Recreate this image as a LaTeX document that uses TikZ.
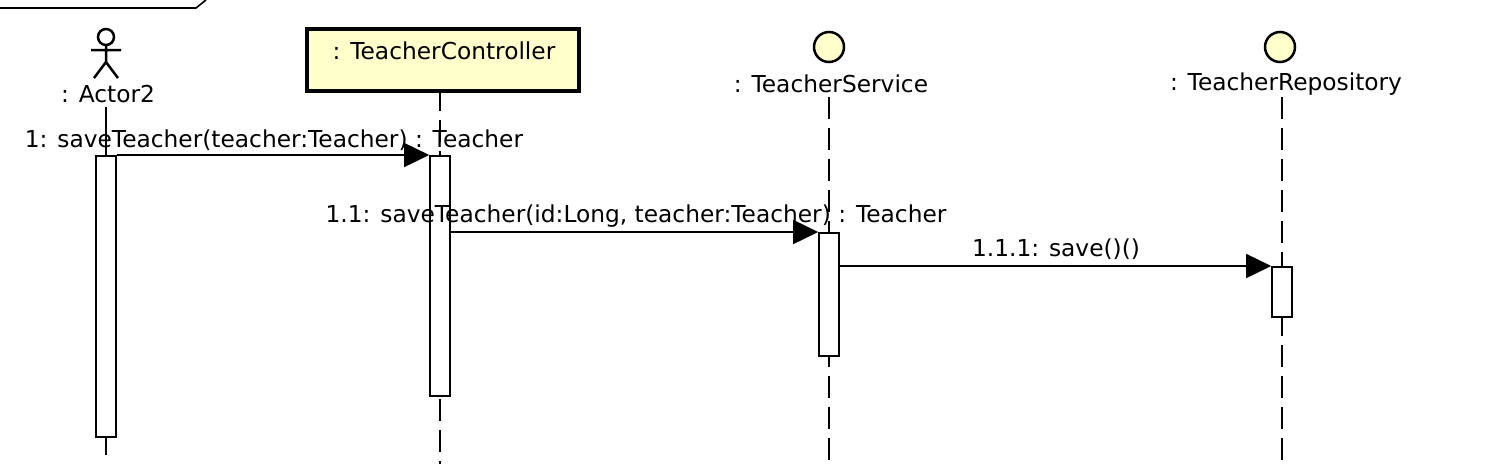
\documentclass[tikz,border=0pt]{standalone}
\usepackage{fontspec}
\setmainfont{DejaVu Sans}
\usetikzlibrary{arrows.meta}
\tikzset{every picture/.style={line width=1.6pt}}
\tikzset{
  lifeline/.style={dash pattern={on 22pt off 9pt}},
  actbox/.style={draw, fill=white, minimum width=20pt, anchor=north},
  msg/.style={-{Triangle[length=25pt,width=24pt]}},
  lbl/.style={inner sep=0pt, font=\fontsize{23.3}{25}\selectfont},
}
\begin{document}
\begin{tikzpicture}[x=1pt,y=1pt,yscale=-1]
\useasboundingbox (0,0) rectangle (1486,464);

%Frame
\draw (0,8) -- (196,8) -- (206,0);

%Actor
\draw[line width=2.5pt] (106,37) circle [radius=8];
\draw[line width=2.5pt] (106,45) -- (106,62) (91,50) -- (121,50) (106,62) -- (94,78) (106,62) -- (118,78);
\node[lbl] (actor) at (108,94) {: Actor2};
\draw (106,107) -- (106,455);

%Controller
\node[draw, line width=3.5pt, fill={rgb,255:red,255;green,255;blue,204}, minimum width=272pt, minimum height=62pt, lbl, anchor=north west] (ctrl) at (305,27) {};
\node[lbl] at (444,51) {: TeacherController};
\draw[lifeline] (440,89) -- (440,464);

%Service
\draw[fill={rgb,255:red,255;green,255;blue,204}, line width=2.5pt] (829,47) circle [radius=15];
\node[lbl] (svc) at (831,84) {: TeacherService};
\draw[lifeline] (829,97) -- (829,464);

%Repository
\draw[fill={rgb,255:red,255;green,255;blue,204}, line width=2.5pt] (1280,47) circle [radius=15];
\node[lbl] (repo) at (1286,84) {: TeacherRepository};
\draw[lifeline] (1282,97) -- (1282,464);

%Activations
\node[actbox, minimum height=281pt] (a0) at (106,155) {};
\node[actbox, minimum height=240pt] (a1) at (440,155) {};
\node[actbox, minimum height=123pt] (a2) at (829,232) {};
\node[actbox, minimum height=50pt] (a3) at (1282,266) {};

%Messages
\draw[msg] (a0.north east) -- (a1.north west);
\draw[msg] ([yshift=77pt]a1.north east) -- (a2.north west);
\draw[msg] ([yshift=34pt]a2.north east) -- (a3.north west);

\node[lbl] at (274,140) {1: saveTeacher(teacher:Teacher) : Teacher};
\node[lbl] at (636,216) {1.1: saveTeacher(id:Long, teacher:Teacher) : Teacher};
\node[lbl] at (1056,249) {1.1.1: save()()};
\end{tikzpicture}
\end{document}
